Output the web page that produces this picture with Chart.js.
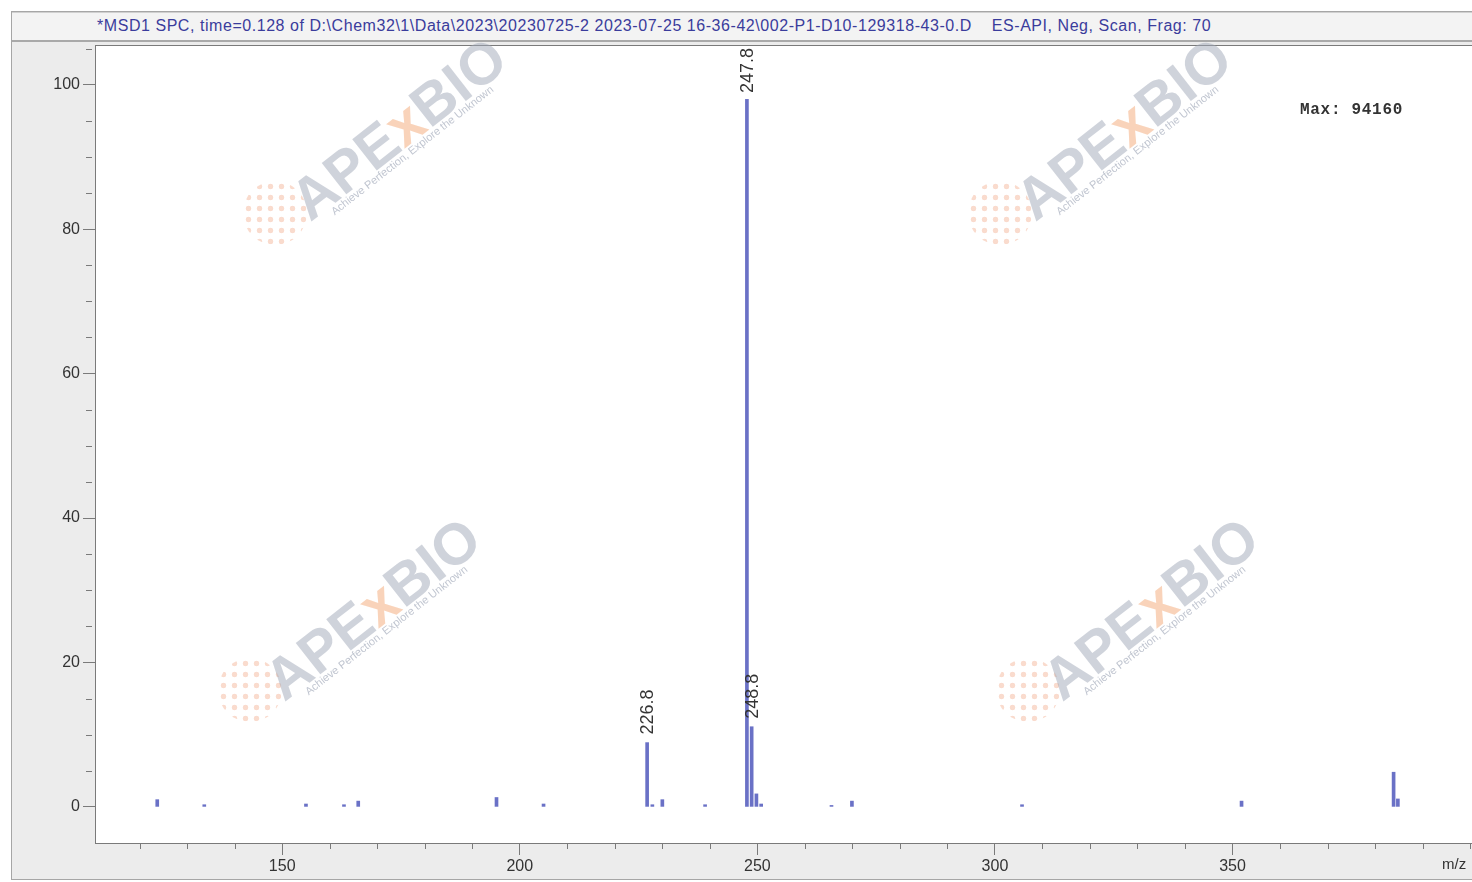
<!DOCTYPE html>
<html>
<head>
<meta charset="utf-8">
<script src="https://cdn.jsdelivr.net/npm/chart.js@4.4.1/dist/chart.umd.min.js"></script>
<style>
  html, body { margin: 0; padding: 0; background: #fff; }
  body { width: 1472px; height: 882px; position: relative; overflow: hidden; font-family: "Liberation Sans", Arial, sans-serif; }
  #frame { position: absolute; left: 11px; top: 11px; width: 1470px; height: 867px; background: #ececec; border: 1px solid #a6a6a6; }
  #titlebar { position: absolute; left: 12px; top: 12px; width: 1470px; height: 27px; background: #f3f3f3;
    border-top: 1px solid #d0d0d0; border-bottom: 2px solid #a9a9a9; }
  #titlebar span { position: absolute; left: 85px; top: 4px; font-size: 16px; letter-spacing: 0.55px; color: #3a3c9c; white-space: nowrap; }
  #chart { position: absolute; left: 0; top: 0; }
  .note { position: absolute; white-space: nowrap; color: #333; }
  #maxlbl { left: 1300px; top: 101px; font-family: "Liberation Mono", "Courier New", monospace; font-weight: bold; font-size: 16px; letter-spacing: 0.7px; }
  #mzlbl { left: 1442px; top: 855px; font-size: 15px; }
  .wm { position: absolute; pointer-events: none; transform-origin: center center; white-space: nowrap; }
  .wm-big { font: bold 58px "Liberation Sans", Arial, sans-serif; color: rgba(160,167,184,0.5); transform: translate(-50%,-50%) rotate(-38deg); }
  .wm-big b { color: rgba(244,175,130,0.55); }
  .wm-small { font: 11px "Liberation Sans", Arial, sans-serif; color: rgba(150,158,176,0.6); transform: translate(-50%,-50%) rotate(-38deg); }
  .wm-dot { width: 64px; height: 64px; border-radius: 50%; transform: translate(-50%,-50%);
    background: radial-gradient(circle, rgba(245,190,165,0.55) 0 32%, rgba(255,255,255,0) 40%) 0 0 / 11px 11px; }
</style>
</head>
<body>
<div id="frame"></div>
<div id="titlebar"><span>*MSD1 SPC, time=0.128 of D:\Chem32\1\Data\2023\20230725-2 2023-07-25 16-36-42\002-P1-D10-129318-43-0.D&nbsp;&nbsp;&nbsp; ES-API, Neg, Scan, Frag: 70</span></div>
<canvas id="chart" width="1472" height="882"></canvas>
<div id="maxlbl" class="note">Max:&nbsp;94160</div>
<div id="mzlbl" class="note">m/z</div>
<div id="wm"></div>
<script>
// spectrum (m/z, relative abundance %)
const mzValues = [123.7, 133.6, 155.0, 163.0, 166.0, 195.1, 205.0, 226.8, 227.9, 230.0, 239.0,
  247.8, 248.8, 249.8, 250.8, 265.6, 269.9, 305.7, 351.9, 383.9, 384.8];
const abundance = [1.0, 0.3, 0.4, 0.3, 0.8, 1.3, 0.4, 8.9, 0.3, 1.0, 0.3,
  100, 11.1, 1.8, 0.4, 0.2, 0.8, 0.3, 0.8, 4.8, 1.1];
const labeledPeaks = [226.8, 247.8, 248.8];
const xMajorTicks = [150, 200, 250, 300, 350];
const yMajorTicks = [0, 20, 40, 60, 80, 100];

const BAR_COLOR = '#6a71c6';
const AXIS_COLOR = '#7a7a7a';
const TEXT_COLOR = '#333';

// watermark placement (decoration only)
const marks = [
  { t: [398, 128], d: [275, 213] },
  { t: [1123, 128], d: [1000, 213] },
  { t: [372, 608], d: [250, 690] },
  { t: [1150, 608], d: [1028, 690] }
];
const wm = document.getElementById('wm');
marks.forEach((m) => {
  wm.insertAdjacentHTML('beforeend',
    `<div class="wm wm-dot" style="left:${m.d[0]}px;top:${m.d[1]}px"></div>` +
    `<div class="wm wm-big" style="left:${m.t[0]}px;top:${m.t[1]}px">APE<b>x</b>BIO</div>` +
    `<div class="wm wm-small" style="left:${m.t[0] + 14}px;top:${m.t[1] + 22}px">Achieve Perfection, Explore the Unknown</div>`);
});

const spectrumDecor = {
  id: 'spectrumDecor',
  beforeDraw(chart) {
    const { ctx, chartArea: a } = chart;
    ctx.save();
    ctx.fillStyle = '#fff';
    ctx.fillRect(a.left, a.top, a.right - a.left, a.bottom - a.top);
    ctx.restore();
  },
  afterDatasetsDraw(chart) {
    const { ctx, chartArea: a } = chart;
    const bars = chart.getDatasetMeta(0).data;
    ctx.save();
    ctx.font = '18px "Liberation Sans", Arial, sans-serif';
    ctx.textBaseline = 'middle';
    ctx.textAlign = 'left';
    labeledPeaks.forEach((p) => {
      const bar = bars[mzValues.indexOf(p)];
      const txt = p.toFixed(1);
      const w = ctx.measureText(txt).width;
      let y0 = bar.y - 8;
      let clamped = false;
      if (y0 - w < a.top + 3) { y0 = a.top + 3 + w; clamped = true; }
      ctx.save();
      ctx.translate(bar.x, y0);
      ctx.rotate(-Math.PI / 2);
      if (clamped) {
        ctx.fillStyle = '#fff';
        ctx.fillRect(-6, -8, w + 7, 16);
      }
      ctx.fillStyle = TEXT_COLOR;
      ctx.fillText(txt, 0, 1);
      ctx.restore();
    });
    ctx.restore();
  },
  afterDraw(chart) {
    const { ctx, chartArea: a, scales } = chart;
    ctx.save();
    ctx.strokeStyle = AXIS_COLOR;
    ctx.lineWidth = 1;
    ctx.strokeRect(a.left + 0.5, a.top + 0.5, a.right - a.left, a.bottom - a.top);
    ctx.beginPath();
    // minor ticks every 10 on x, every 5 on y
    for (let v = 120; v <= 400; v += 10) {
      if (xMajorTicks.includes(v)) continue;
      const x = Math.round(scales.x.getPixelForValue(v)) + 0.5;
      ctx.moveTo(x, a.bottom);
      ctx.lineTo(x, a.bottom + 6);
    }
    for (let v = 0; v <= 105; v += 5) {
      if (yMajorTicks.includes(v)) continue;
      const y = Math.round(scales.y.getPixelForValue(v)) + 0.5;
      ctx.moveTo(a.left - 9, y);
      ctx.lineTo(a.left - 3, y);
    }
    ctx.stroke();
    ctx.restore();
  }
};

new Chart(document.getElementById('chart'), {
  type: 'bar',
  data: {
    datasets: [{
      data: mzValues.map((m, i) => ({ x: m, y: abundance[i] })),
      backgroundColor: BAR_COLOR,
      borderWidth: 0,
      barThickness: 3
    }]
  },
  options: {
    responsive: false,
    animation: false,
    devicePixelRatio: 1,
    layout: { padding: { left: 12, top: 45, right: 0, bottom: 4 } },
    plugins: { legend: { display: false }, tooltip: { enabled: false } },
    scales: {
      x: {
        type: 'linear',
        offset: false,
        min: 110.6,
        max: 400.4,
        afterBuildTicks: (s) => { s.ticks = xMajorTicks.map((v) => ({ value: v })); },
        afterFit: (s) => { s.height = 35; },
        ticks: { color: TEXT_COLOR, font: { size: 16, family: '"Liberation Sans", Arial' }, padding: 2, maxRotation: 0, autoSkip: false },
        grid: { offset: false, drawOnChartArea: false, tickLength: 12, tickColor: AXIS_COLOR },
        border: { display: true, color: AXIS_COLOR }
      },
      y: {
        min: -5,
        max: 105.5,
        afterBuildTicks: (s) => { s.ticks = yMajorTicks.map((v) => ({ value: v })); },
        afterFit: (s) => { s.width = 83; },
        ticks: { color: TEXT_COLOR, font: { size: 16, family: '"Liberation Sans", Arial' }, padding: 3 },
        grid: { drawOnChartArea: false, tickLength: 12, tickColor: AXIS_COLOR },
        border: { display: true, color: AXIS_COLOR }
      }
    }
  },
  plugins: [spectrumDecor]
});
</script>
</body>
</html>
